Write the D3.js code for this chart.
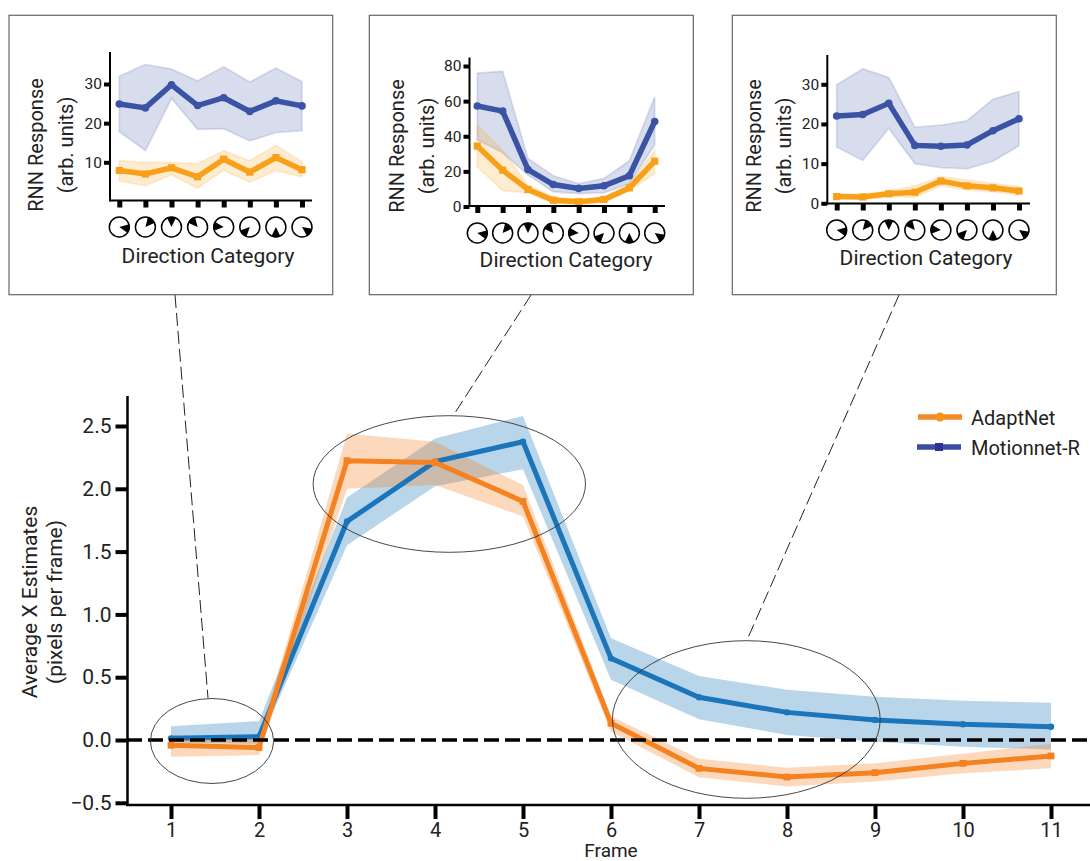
<!DOCTYPE html>
<html>
<head>
<meta charset="utf-8">
<script src="https://cdn.jsdelivr.net/npm/d3@7"></script>
<style>
  body { margin: 0; background: #fff; }
  svg { display: block; }
  text { font-family: Roboto, sans-serif; fill: #222; }
</style>
</head>
<body>
<svg width="1090" height="861"></svg>
<script>
// main chart values
const frames = [1, 2, 3, 4, 5, 6, 7, 8, 9, 10, 11];
const motion = [0.013, 0.027, 1.74, 2.216, 2.375, 0.65, 0.34, 0.22, 0.16, 0.125, 0.106];
const motionHi = [0.11, 0.15, 1.93, 2.40, 2.58, 0.81, 0.51, 0.40, 0.345, 0.313, 0.297];
const motionLo = [-0.02, -0.03, 1.55, 2.02, 2.155, 0.48, 0.165, 0.04, -0.013, -0.053, -0.075];
const adapt = [-0.042, -0.06, 2.224, 2.21, 1.90, 0.133, -0.226, -0.295, -0.26, -0.186, -0.127];
const adaptHi = [0.04, 0.01, 2.44, 2.375, 2.03, 0.19, -0.15, -0.22, -0.186, -0.11, -0.03];
const adaptLo = [-0.133, -0.12, 2.0, 2.03, 1.78, 0.066, -0.297, -0.37, -0.33, -0.265, -0.225];
const mainTicks = [-0.5, 0, 0.5, 1, 1.5, 2, 2.5];

// inset values, one row per panel
const directions = [100, 40, 0, -40, -85, -135, 180, 125];
const inset1Motion = [24.9, 23.9, 29.8, 24.5, 26.5, 23.0, 25.7, 24.4];
const inset1MotionHi = [32.0, 35, 33.8, 30.8, 34.4, 30.5, 34.1, 30.6];
const inset1MotionLo = [17.8, 13, 26.3, 18.4, 18.6, 15.5, 17.6, 18.1];
const inset1Adapt = [7.9, 7.0, 8.6, 6.3, 10.8, 7.5, 11.2, 8.1];
const inset1AdaptHi = [10.4, 10, 10, 9.6, 13, 10.4, 14.3, 10.2];
const inset1AdaptLo = [5.2, 4, 6.8, 3.4, 8, 4.9, 7.9, 6.3];

const inset2Motion = [57.2, 54.3, 21, 12.5, 10.3, 11.8, 17.5, 48.4];
const inset2MotionHi = [76, 77, 27.4, 17.5, 13, 16, 26, 62.5];
const inset2MotionLo = [38, 30.6, 17.9, 8.4, 7.4, 7.8, 13, 35];
const inset2Adapt = [34.4, 20.7, 9.7, 3.6, 2.7, 4, 10.6, 25.8];
const inset2AdaptHi = [46.3, 32, 12, 5.5, 4, 5.5, 12.5, 32];
const inset2AdaptLo = [22.6, 9, 7.8, 2, 1.3, 2.7, 9, 18.8];

const inset3Motion = [22, 22.4, 25.2, 14.6, 14.4, 14.7, 18.3, 21.3];
const inset3MotionHi = [29.9, 33.9, 31.7, 19.2, 19.7, 20.8, 26.2, 28.2];
const inset3MotionLo = [14.2, 10.8, 18.9, 10, 9, 8.7, 10.6, 14.5];
const inset3Adapt = [1.7, 1.6, 2.4, 2.8, 5.6, 4.4, 3.9, 3.1];
const inset3AdaptHi = [2.3, 2.3, 3.1, 4.4, 6.7, 5.9, 5, 4.2];
const inset3AdaptLo = [1.1, 1, 1.7, 1.5, 4.4, 3.4, 2.9, 2.1];

const svg = d3.select("svg");

// ---- main chart ----
const x = d3.scaleLinear().domain([1, 11]).range([171, 1051]);
const y = d3.scaleLinear().domain([0, 2.5]).range([740, 426]);

function band(g, xs, hi, lo, yScale, fill, stroke) {
  const area = d3.area()
    .x(d => xs(d))
    .y0((d, i) => yScale(lo[i]))
    .y1((d, i) => yScale(hi[i]));
  g.append("path")
    .datum(xs.domainValues)
    .attr("d", area)
    .attr("fill", fill)
    .attr("stroke", stroke || "none")
    .attr("stroke-width", 1.8);
}

function trace(g, xs, vals, yScale, color, w, shape, size) {
  const line = d3.line().x(d => xs(d)).y((d, i) => yScale(vals[i]));
  g.append("path")
    .datum(xs.domainValues)
    .attr("d", line)
    .attr("fill", "none")
    .attr("stroke", color)
    .attr("stroke-width", w)
    .attr("stroke-linejoin", "miter");
  xs.domainValues.forEach((d, i) => {
    if (shape == "circle") {
      g.append("circle")
        .attr("cx", xs(d)).attr("cy", yScale(vals[i]))
        .attr("r", size).attr("fill", color);
    } else {
      g.append("rect")
        .attr("x", xs(d) - size).attr("y", yScale(vals[i]) - size)
        .attr("width", size * 2).attr("height", size * 2).attr("fill", color);
    }
  });
}

x.domainValues = frames;
const main = svg.append("g");
band(main, x, motionHi, motionLo, y, "#b9d5e9");
band(main, x, adaptHi, adaptLo, y, "rgba(245,130,32,0.3)");
trace(main, x, motion, y, "#1b75bb", 5, "circle", 3.2);
trace(main, x, adapt, y, "#f58220", 5, "rect", 3.4);

main.append("line")
  .attr("x1", 127).attr("x2", 1090)
  .attr("y1", y(0)).attr("y2", y(0))
  .attr("stroke", "#000").attr("stroke-width", 3.5)
  .attr("stroke-dasharray", "15,6");

const yAxisMain = main.append("g")
  .attr("transform", "translate(127.5,0)")
  .call(d3.axisLeft(y).tickValues(mainTicks).tickFormat(d => d == -0.5 ? "\u22120.5" : d3.format(".1f")(d)).tickSize(12).tickPadding(4));
yAxisMain.select(".domain").attr("d", "M0,396V805").attr("stroke", "#000").attr("stroke-width", 2.5);
yAxisMain.selectAll(".tick line").attr("stroke", "#000").attr("stroke-width", 4);
yAxisMain.selectAll("text").style("font-size", "21px").style("font-family", "Roboto");

const xAxisMain = main.append("g")
  .attr("transform", "translate(0,805)")
  .call(d3.axisBottom(x).tickValues(frames).tickFormat(d3.format("d")).tickSize(14).tickPadding(4));
xAxisMain.select(".domain").attr("d", "M126,0H1090").attr("stroke", "#000").attr("stroke-width", 2.5);
xAxisMain.selectAll(".tick line").attr("stroke", "#000").attr("stroke-width", 4);
xAxisMain.selectAll("text").style("font-size", "20px").style("font-family", "Roboto");

main.append("text").attr("x", 611).attr("y", 856.8).attr("text-anchor", "middle")
  .style("font-size", "19px").text("Frame");
main.append("text").attr("transform", "translate(37,602) rotate(-90)").attr("text-anchor", "middle")
  .style("font-size", "21px").text("Average X Estimates");
main.append("text").attr("transform", "translate(62,602) rotate(-90)").attr("text-anchor", "middle")
  .style("font-size", "21px").text("(pixels per frame)");

// legend
function legendRow(ly, x1, x2, color, mark, name, shape) {
  main.append("line").attr("x1", x1).attr("x2", x2).attr("y1", ly).attr("y2", ly)
    .attr("stroke", color).attr("stroke-width", 5.5);
  if (shape == "circle") {
    main.append("circle").attr("cx", (x1 + x2) / 2).attr("cy", ly).attr("r", 4.5).attr("fill", mark);
  } else {
    main.append("rect").attr("x", (x1 + x2) / 2 - 4).attr("y", ly - 4).attr("width", 8).attr("height", 8).attr("fill", mark);
  }
  main.append("text").attr("x", 971).attr("y", ly + 8).style("font-size", "20px").text(name);
}
legendRow(417, 918, 962, "#f58a2a", "#f7941d", "AdaptNet", "circle");
legendRow(447, 917, 961, "#3a4ca4", "#2e3192", "Motionnet-R", "rect");

// zoom ellipses and leader lines
const ovals = [[212, 741, 61.6, 42.5], [449.3, 484, 136.2, 68.3], [746.3, 719.5, 133.9, 78.8]];
ovals.forEach(o => {
  main.append("ellipse").attr("cx", o[0]).attr("cy", o[1]).attr("rx", o[2]).attr("ry", o[3])
    .attr("fill", "none").attr("stroke", "#333").attr("stroke-width", 0.9);
});
const leaders = [[175, 295, 208, 698], [531, 295, 453, 416], [899, 295, 747, 640]];
leaders.forEach(l => {
  main.append("line").attr("x1", l[0]).attr("y1", l[1]).attr("x2", l[2]).attr("y2", l[3])
    .attr("stroke", "#222").attr("stroke-width", 1).attr("stroke-dasharray", "13,5");
});

// ---- insets ----
const cats = d3.range(8);
const wedge = d3.arc().innerRadius(0).outerRadius(10.3);

function inset(p) {
  const g = svg.append("g");
  g.append("rect")
    .attr("x", p.box[0]).attr("y", p.box[1])
    .attr("width", p.box[2] - p.box[0]).attr("height", p.box[3] - p.box[1])
    .attr("fill", "#fff").attr("stroke", "#666").attr("stroke-width", 1.2);

  const xs = d3.scaleLinear().domain([0, 7]).range(p.xRange);
  xs.domainValues = cats;
  const ys = d3.scaleLinear().domain(p.yDomain).range(p.yRange);

  band(g, xs, p.motionHi, p.motionLo, ys, "rgba(58,83,164,0.2)", "rgba(58,83,164,0.16)");
  band(g, xs, p.adaptHi, p.adaptLo, ys, "rgba(249,160,27,0.2)", "rgba(249,160,27,0.16)");
  trace(g, xs, p.motion, ys, "#3a53a4", 5.5, "circle", 3.8);
  trace(g, xs, p.adapt, ys, "#f9a01b", 5.5, "rect", 3.6);

  const ya = g.append("g").attr("transform", `translate(${p.axisX},0)`)
    .call(d3.axisLeft(ys).tickValues(p.ticks).tickSize(6).tickPadding(2));
  ya.select(".domain").attr("d", `M0,${p.top}V${p.axisY + 1}`).attr("stroke", "#000").attr("stroke-width", 2);
  ya.selectAll(".tick line").attr("stroke", "#000").attr("stroke-width", 4);
  ya.selectAll("text").style("font-size", "15.5px").style("font-family", "Roboto");

  const xa = g.append("g").attr("transform", `translate(0,${p.axisY})`)
    .call(d3.axisBottom(xs).tickValues(cats).tickSize(7).tickFormat(""));
  xa.select(".domain").attr("d", `M${p.axisX},0H${p.axisEnd}`).attr("stroke", "#000").attr("stroke-width", 2);
  xa.selectAll(".tick line").attr("stroke", "#000").attr("stroke-width", 5);

  // direction icons under the ticks
  cats.forEach(i => {
    const ic = g.append("g").attr("transform", `translate(${xs(i)},${p.iconY})`);
    ic.append("circle").attr("r", 10).attr("fill", "#fff").attr("stroke", "#000").attr("stroke-width", 1.5);
    const a = directions[i] * Math.PI / 180;
    ic.append("path").attr("d", wedge({ startAngle: a - 0.45, endAngle: a + 0.45 })).attr("fill", "#000");
  });

  g.append("text").attr("x", p.catX).attr("y", p.catY).attr("text-anchor", "middle")
    .style("font-size", "21px").text("Direction Category");
  g.append("text").attr("transform", `translate(${p.labelX},${p.labelY}) rotate(-90)`).attr("text-anchor", "middle")
    .style("font-size", "20px").text("RNN Response");
  g.append("text").attr("transform", `translate(${p.labelX + 30},${p.labelY}) rotate(-90)`).attr("text-anchor", "middle")
    .style("font-size", "20px").text("(arb. units)");
}

inset({
  box: [9, 15.3, 332.7, 294.7], xRange: [119.3, 302], yDomain: [10, 30], yRange: [162.3, 84],
  ticks: [10, 20, 30], axisX: 110, axisY: 200.5, axisEnd: 312, top: 52, iconY: 227,
  catX: 208, catY: 263, labelX: 43, labelY: 145,
  motion: inset1Motion, motionHi: inset1MotionHi, motionLo: inset1MotionLo,
  adapt: inset1Adapt, adaptHi: inset1AdaptHi, adaptLo: inset1AdaptLo
});
inset({
  box: [369.3, 15.3, 693.3, 294.7], xRange: [477.3, 654.7], yDomain: [0, 80], yRange: [206.5, 66],
  ticks: [0, 20, 40, 60, 80], axisX: 469.5, axisY: 206, axisEnd: 665, top: 57.5, iconY: 233,
  catX: 566, catY: 267, labelX: 404, labelY: 146,
  motion: inset2Motion, motionHi: inset2MotionHi, motionLo: inset2MotionLo,
  adapt: inset2Adapt, adaptHi: inset2AdaptHi, adaptLo: inset2AdaptLo
});
inset({
  box: [732.3, 15.3, 1056.3, 294.7], xRange: [836.7, 1019], yDomain: [0, 30], yRange: [203.3, 84.3],
  ticks: [0, 10, 20, 30], axisX: 827.3, axisY: 203.5, axisEnd: 1030, top: 55, iconY: 230,
  catX: 926, catY: 265, labelX: 761, labelY: 146,
  motion: inset3Motion, motionHi: inset3MotionHi, motionLo: inset3MotionLo,
  adapt: inset3Adapt, adaptHi: inset3AdaptHi, adaptLo: inset3AdaptLo
});
</script>
</body>
</html>
